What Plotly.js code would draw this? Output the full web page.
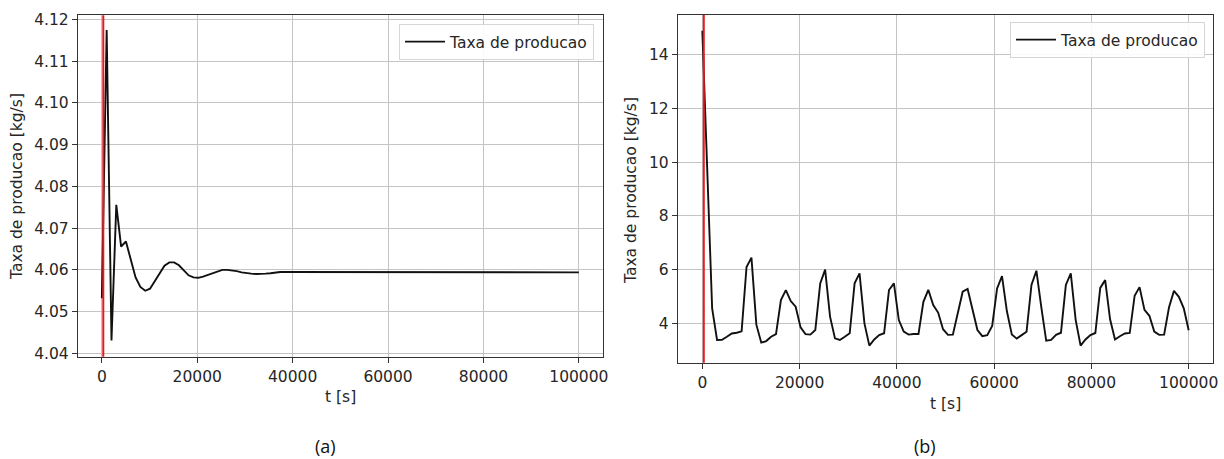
<!DOCTYPE html>
<html>
<head>
<meta charset="utf-8">
<script src="https://cdn.plot.ly/plotly-3.0.1.min.js"></script>
<style>html,body{margin:0;padding:0;background:#fff;}#chart{width:1224px;height:459px;}</style>
</head>
<body>
<div id="chart"></div>
<script>
// time grid [s]
const timeS = [0,1010,2020,3030,4040,5051,6061,7071,8081,9091,10101,11111,12121,13131,14141,15152,16162,17172,18182,19192,20202,21212,22222,23232,24242,25253,26263,27273,28283,29293,30303,31313,32323,33333,34343,35354,36364,37374,38384,39394,40404,41414,42424,43434,44444,45455,46465,47475,48485,49495,50505,51515,52525,53535,54545,55556,56566,57576,58586,59596,60606,61616,62626,63636,64646,65657,66667,67677,68687,69697,70707,71717,72727,73737,74747,75758,76768,77778,78788,79798,80808,81818,82828,83838,84848,85859,86869,87879,88889,89899,90909,91919,92929,93939,94949,95960,96970,97980,98990,100000];

// (a) production rate [kg/s]
const rateA = [4.0532,4.1175,4.0431,4.0756,4.0656,4.0668,4.0625,4.0582,4.0559,4.0550,
4.0555,4.0573,4.0594,4.0610,4.0618,4.0618,4.0611,4.0598,4.0587,4.0582,
4.0581,4.0584,4.0588,4.0593,4.0597,4.0600,4.0600,4.0599,4.0597,4.0594,
4.0592,4.0591,4.0590,4.0590,4.0591,4.0592,4.0594,4.0595,4.0595,4.0595,
4.0595,4.0594,4.0594,4.0594,4.0594,4.0594,4.0594,4.0594,4.0594,4.0594,
4.0594,4.0594,4.0594,4.0594,4.0594,4.0594,4.0594,4.0594,4.0594,4.0594,
4.0594,4.0594,4.0594,4.0594,4.0594,4.0594,4.0594,4.0594,4.0594,4.0594,
4.0594,4.0594,4.0594,4.0594,4.0594,4.0594,4.0594,4.0594,4.0594,4.0594,
4.0594,4.0594,4.0594,4.0594,4.0594,4.0594,4.0594,4.0594,4.0594,4.0594,
4.0594,4.0594,4.0594,4.0594,4.0594,4.0594,4.0594,4.0594,4.0594,4.0594];

// (b) production rate [kg/s]
const rateB = [14.9,9.5,4.56,3.38,3.39,3.5,3.62,3.65,3.7,6.1,
6.45,3.95,3.28,3.34,3.5,3.6,4.87,5.24,4.83,4.62,
3.85,3.6,3.58,3.75,5.49,6.0,4.25,3.44,3.38,3.5,
3.63,5.49,5.86,4.0,3.17,3.4,3.56,3.63,5.24,5.49,
4.12,3.69,3.58,3.6,3.6,4.8,5.25,4.68,4.4,3.78,
3.57,3.58,4.4,5.18,5.28,4.5,3.75,3.52,3.56,3.9,
5.3,5.76,4.45,3.58,3.43,3.56,3.69,5.43,5.96,4.6,
3.35,3.38,3.57,3.65,5.43,5.86,4.12,3.17,3.4,3.56,
3.64,5.32,5.61,4.15,3.4,3.52,3.62,3.64,5.03,5.35,
4.5,4.28,3.69,3.57,3.58,4.6,5.21,4.99,4.56,3.74];

const seriesName = 'Taxa de producao';
const redLineT = 300;
const xTicks = [0,20000,40000,60000,80000,100000];
const yTicksA = [4.04,4.05,4.06,4.07,4.08,4.09,4.10,4.11,4.12];
const yTickTextA = ['4.04','4.05','4.06','4.07','4.08','4.09','4.10','4.11','4.12'];
const yTicksB = [4,6,8,10,12,14];
const xTitle = 't [s]';
const yTitle = 'Taxa de producao [kg/s]';
const captions = ['(a)','(b)'];

const W = 1224, H = 459;
const FONT = 'DejaVu Sans, sans-serif';
const TXT = '#262626';

const traces = [
  {x: timeS, y: rateA, type:'scatter', mode:'lines', name: seriesName,
   line:{color:'#111', width:1.9}, xaxis:'x', yaxis:'y', legend:'legend'},
  {x: timeS, y: rateB, type:'scatter', mode:'lines', name: seriesName,
   line:{color:'#111', width:1.9}, xaxis:'x2', yaxis:'y2', legend:'legend2'}
];

function xAxis(domain, anchor){
  return {domain: domain, anchor: anchor, range:[-5000,105000], tickvals: xTicks,
    ticktext: xTicks.map(String), ticks:'outside', ticklen:5, tickwidth:1, tickcolor:'#333',
    showline:true, mirror:true, linecolor:'#333', linewidth:1.2,
    showgrid:true, gridcolor:'#c4c4c4', gridwidth:1, zeroline:false,
    tickfont:{family:FONT, size:15.5, color:TXT}, automargin:false};
}
function yAxis(domain, anchor, range, tv, tt){
  return {domain: domain, anchor: anchor, range: range, tickvals: tv, ticktext: tt,
    ticks:'outside', ticklen:5, tickwidth:1, tickcolor:'#333',
    showline:true, mirror:true, linecolor:'#333', linewidth:1.2,
    showgrid:true, gridcolor:'#c4c4c4', gridwidth:1, zeroline:false,
    tickfont:{family:FONT, size:15.5, color:TXT}, automargin:false};
}

const leftDom = [78/W, 602.7/W];
const rightDom = [678/W, 1213/W];
const yDomA = [1-356.7/H, 1-15.3/H];
const yDomB = [1-362.7/H, 1-15/H];

const legendStyle = {font:{family:FONT, size:15.5, color:TXT}, bgcolor:'rgba(255,255,255,0.9)',
  bordercolor:'#d6d6d6', borderwidth:1, xanchor:'right', yanchor:'top',
  xref:'paper', yref:'paper', tracegroupgap:0, itemwidth:40};

const layout = {
  width: W, height: H,
  margin:{l:0,r:0,t:0,b:0},
  paper_bgcolor:'#fff', plot_bgcolor:'#fff',
  showlegend:true,
  xaxis: xAxis(leftDom, 'y'),
  yaxis: yAxis(yDomA, 'x', [4.0392, 4.1210], yTicksA, yTickTextA),
  xaxis2: xAxis(rightDom, 'y2'),
  yaxis2: yAxis(yDomB, 'x2', [2.533, 15.49], yTicksB, yTicksB.map(String)),
  legend: Object.assign({}, legendStyle, {x: 594/W, y: 1-24/H}),
  legend2: Object.assign({}, legendStyle, {x: 1205/W, y: 1-22/H}),
  shapes:[
    {type:'line', xref:'x', yref:'y domain', x0:redLineT, x1:redLineT, y0:0, y1:1, line:{color:'#e8191c', width:2}},
    {type:'line', xref:'x2', yref:'y2 domain', x0:redLineT, x1:redLineT, y0:0, y1:1, line:{color:'#e8191c', width:2}}
  ],
  annotations:[
    {text:yTitle, xref:'paper', yref:'paper', x:17/W, y:1-187/H, textangle:-90, showarrow:false,
     font:{family:FONT, size:15.5, color:TXT}, xanchor:'center', yanchor:'middle'},
    {text:yTitle, xref:'paper', yref:'paper', x:631/W, y:1-190/H, textangle:-90, showarrow:false,
     font:{family:FONT, size:15.5, color:TXT}, xanchor:'center', yanchor:'middle'},
    {text:xTitle, xref:'paper', yref:'paper', x:340/W, y:1-397/H, showarrow:false,
     font:{family:FONT, size:15.5, color:TXT}, xanchor:'center', yanchor:'middle'},
    {text:xTitle, xref:'paper', yref:'paper', x:945/W, y:1-404/H, showarrow:false,
     font:{family:FONT, size:15.5, color:TXT}, xanchor:'center', yanchor:'middle'},
    {text:captions[0], xref:'paper', yref:'paper', x:325/W, y:1-446/H, showarrow:false,
     font:{family:'Open Sans, sans-serif', size:18, color:'#111'}, xanchor:'center', yanchor:'middle'},
    {text:captions[1], xref:'paper', yref:'paper', x:925/W, y:1-446/H, showarrow:false,
     font:{family:'Open Sans, sans-serif', size:18, color:'#111'}, xanchor:'center', yanchor:'middle'}
  ]
};

Plotly.newPlot('chart', traces, layout, {displayModeBar:false, staticPlot:true});
</script>
</body>
</html>
